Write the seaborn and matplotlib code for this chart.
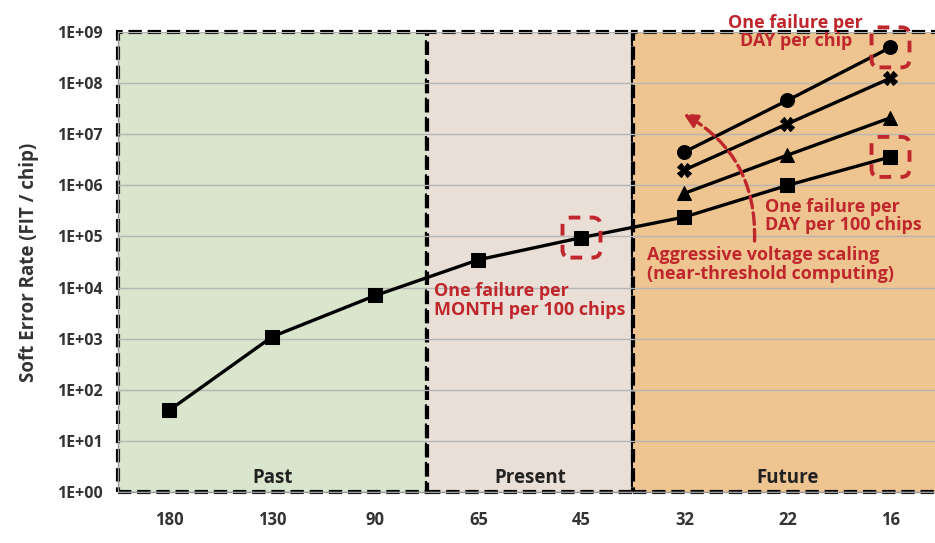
import numpy as np
import pandas as pd
import matplotlib
matplotlib.use("Agg")
import matplotlib.pyplot as plt
import matplotlib.patches as mpatches
import matplotlib.transforms as mtransforms
import seaborn as sns

# Data
nodes = ['180', '130', '90', '65', '45', '32', '22', '16']
base_rate = [40, 1100, 7000, 35000, 95000, 240000, 1000000, 3600000]
future_nodes = ['32', '22', '16']
circle_rate = [4.5e6, 4.6e7, 5.0e8]
cross_rate = [2.0e6, 1.6e7, 1.25e8]
triangle_rate = [7.0e5, 3.9e6, 2.1e7]

regions = ['Past', 'Present', 'Future']
region_spans = [(-0.5, 2.5), (2.5, 4.5), (4.5, 7.5)]
region_colors = ['#D9E5CC', '#E9DFD6', '#EEC590']

red = '#C0272D'

rows = []
for n, v in zip(nodes, base_rate):
    rows.append({'pos': nodes.index(n), 'rate': v, 'series': 'base'})
for name, vals in [('circle', circle_rate), ('cross', cross_rate), ('triangle', triangle_rate)]:
    for n, v in zip(future_nodes, vals):
        rows.append({'pos': nodes.index(n), 'rate': v, 'series': name})
df = pd.DataFrame(rows)

sns.set_theme(style="white")
plt.rcParams['font.family'] = ['Open Sans', 'DejaVu Sans']

fig = plt.figure(figsize=(9.35, 5.43), dpi=100)
ax = fig.add_axes([118 / 935, 1 - 492 / 543, 824 / 935, 460 / 543])

# shaded eras with dashed borders
for (x0, x1), c in zip(region_spans, region_colors):
    ax.axvspan(x0, x1, facecolor=c, edgecolor='black', linestyle=(0, (3.2, 1.4)),
               linewidth=3.0, zorder=0, clip_on=False)

ax.set_yscale('log')
ax.set_ylim(1, 1e9)
ax.set_xlim(-0.5, 7.5)
ax.set_yticks([10.0 ** k for k in range(10)])
ax.set_yticklabels(['1E+%02d' % k for k in range(10)])
ax.yaxis.set_minor_locator(matplotlib.ticker.NullLocator())
ax.grid(axis='y', color='#B5B5B5', linewidth=1.0, zorder=1)
ax.set_axisbelow(True)

markers = {'base': 's', 'circle': 'o', 'cross': 'X', 'triangle': '^'}
sns.lineplot(data=df, x='pos', y='rate', style='series', markers=markers, dashes=False,
             color='black', linewidth=2.4, markersize=10, markeredgecolor='black',
             legend=False, ax=ax, zorder=3, clip_on=False)

ax.set_xticks(range(len(nodes)))
ax.set_xticklabels(nodes)
ax.set_xticks(np.arange(-0.5, 8, 1), minor=True)
ax.tick_params(axis='x', which='major', length=0, pad=14, labelsize=12, labelcolor='#333333')
ax.tick_params(axis='x', which='minor', length=4, color='#999999', width=1, direction='out')
ax.tick_params(axis='y', which='major', length=6, color='#999999', width=1, direction='out',
               pad=5, labelsize=11.5, labelcolor='#333333')
for lbl in ax.get_xticklabels() + ax.get_yticklabels():
    lbl.set_fontweight('bold')
ax.set_xlabel('')
ax.set_ylabel('Soft Error Rate (FIT / chip)', fontsize=13.5, fontweight='bold', color='#333333', labelpad=13)

for s in ['top', 'right']:
    ax.spines[s].set_visible(False)
for s in ['left', 'bottom']:
    ax.spines[s].set_color('#999999')
    ax.spines[s].set_linewidth(1)

# era labels
for name, (x0, x1) in zip(regions, region_spans):
    ax.text((x0 + x1) / 2, 1.9, name, ha='center', va='center', fontsize=13.5,
            fontweight='bold', color='#222222', zorder=4)

# red annotations
tkw = dict(color=red, fontsize=13, fontweight='bold', linespacing=1.05, zorder=5)
ax.text(6.08, 1e9, 'One failure per\nDAY per chip', ha='center', va='center', **tkw)
ax.text(5.78, 2.5e5, 'One failure per\nDAY per 100 chips', ha='left', va='center', **tkw)
ax.text(4.64, 2.8e4, 'Aggressive voltage scaling\n(near-threshold computing)', ha='left', va='center', **tkw)
ax.text(2.57, 5.5e3, 'One failure per\nMONTH per 100 chips', ha='left', va='center', **tkw)

ax.annotate('', xy=(4.99, 10 ** 7.4), xytext=(5.68, 10 ** 4.91),
            arrowprops=dict(arrowstyle='-|>', color=red, lw=2.4, linestyle=(0, (3.5, 1.5)),
                            connectionstyle='arc3,rad=0.3', mutation_scale=20, shrinkA=0, shrinkB=0),
            zorder=5)

# dashed highlight boxes around key points
for xi, yv in [(4, base_rate[4]), (7, circle_rate[2]), (7, base_rate[7])]:
    w, h = 0.38, 0.40
    box = mpatches.FancyBboxPatch((-w / 2, -h / 2), w, h, boxstyle='round,pad=0,rounding_size=0.08',
                                  facecolor='none', edgecolor=red, linewidth=2.8,
                                  linestyle=(0, (3, 2.4)),
                                  transform=fig.dpi_scale_trans + mtransforms.ScaledTranslation(xi, yv, ax.transData),
                                  zorder=6, clip_on=False)
    ax.add_patch(box)

fig.savefig('out.png', dpi=100)
